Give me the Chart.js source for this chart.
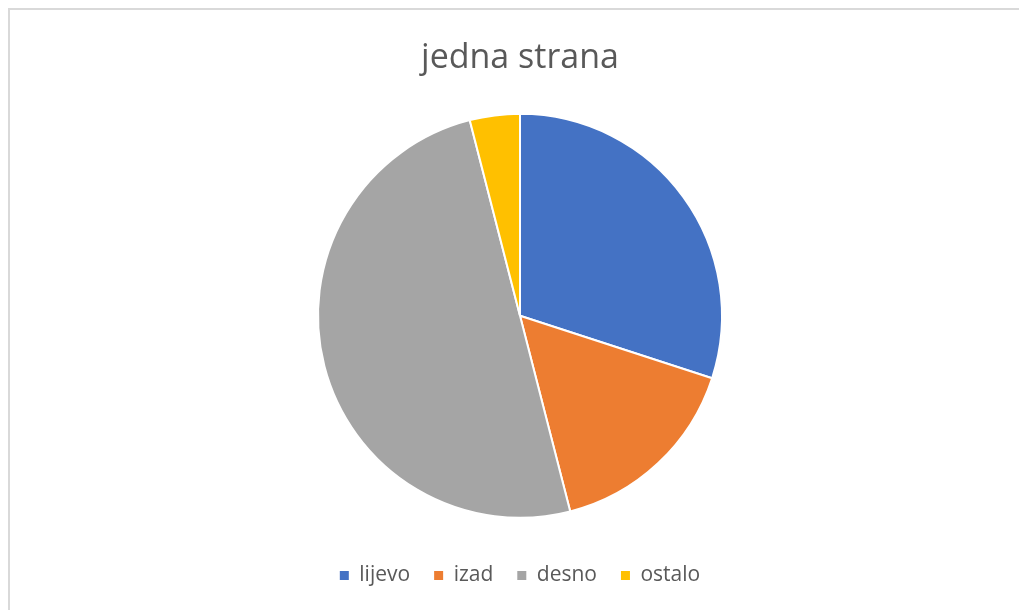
<!DOCTYPE html>
<html>
<head>
<meta charset="utf-8">
<script src="https://cdn.jsdelivr.net/npm/chart.js@4"></script>
<style>
html,body{margin:0;padding:0;background:#fff;}
#wrap{width:1019px;height:610px;position:relative;}
</style>
</head>
<body>
<div id="wrap"><canvas id="c" width="1019" height="610"></canvas></div>
<script>
const chartTitle = 'jedna strana';
const categories = ['lijevo', 'izad', 'desno', 'ostalo'];
const values = [15, 8, 25, 2];
const colors = ['#4472C4', '#ED7D31', '#A5A5A5', '#FFC000'];

const frame = {
  id: 'frame',
  beforeDraw(chart) {
    const ctx = chart.ctx;
    ctx.save();
    ctx.fillStyle = '#ffffff';
    ctx.fillRect(0, 0, chart.width, chart.height);
    ctx.strokeStyle = '#d9d9d9';
    ctx.lineWidth = 2;
    ctx.beginPath();
    ctx.moveTo(9, chart.height + 5);
    ctx.lineTo(9, 9);
    ctx.lineTo(chart.width + 5, 9);
    ctx.stroke();
    ctx.restore();
  }
};

const fontFam = '"Open Sans", "Noto Sans", sans-serif';

new Chart(document.getElementById('c'), {
  type: 'pie',
  data: {
    labels: categories,
    datasets: [{
      data: values,
      backgroundColor: colors,
      borderColor: '#ffffff',
      borderWidth: 2
    }]
  },
  options: {
    responsive: false,
    animation: false,
    layout: { padding: { top: 30, left: 21, right: 0, bottom: 14 } },
    plugins: {
      title: {
        display: true,
        text: chartTitle,
        color: '#595959',
        font: { family: fontFam, size: 34, weight: 'normal' },
        padding: { top: 8, bottom: 34 }
      },
      legend: {
        position: 'bottom',
        title: {
          display: true,
          text: ' ',
          font: { size: 1 },
          padding: { top: 21, bottom: 0 }
        },
        labels: {
          color: '#595959',
          font: { family: fontFam, size: 21 },
          boxWidth: 9,
          boxHeight: 9,
          padding: 24,
          generateLabels(chart) {
            const items = Chart.controllers.pie.overrides.plugins.legend.labels.generateLabels(chart);
            items.forEach(i => { i.lineWidth = 0; i.strokeStyle = 'rgba(0,0,0,0)'; });
            return items;
          }
        }
      },
      tooltip: { enabled: false }
    }
  },
  plugins: [frame]
});
</script>
</body>
</html>
